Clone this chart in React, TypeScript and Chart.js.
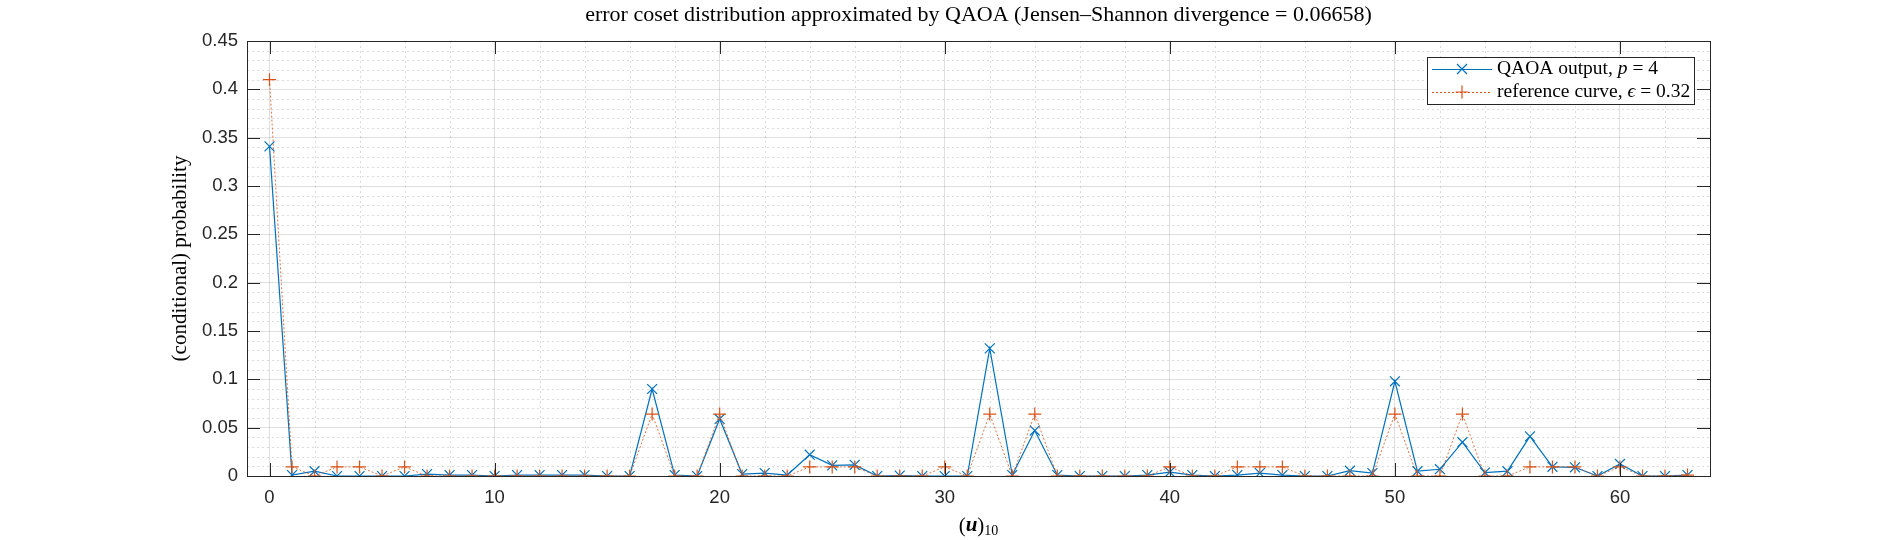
import { useEffect, useRef } from 'react'
import { Chart, registerables } from 'chart.js'

Chart.register(...registerables)

// (u)_10 index of each error coset
const uValues = [
  0, 1, 2, 3, 4, 5, 6, 7, 8, 9, 10, 11, 12, 13, 14, 15,
  16, 17, 18, 19, 20, 21, 22, 23, 24, 25, 26, 27, 28, 29, 30, 31,
  32, 33, 34, 35, 36, 37, 38, 39, 40, 41, 42, 43, 44, 45, 46, 47,
  48, 49, 50, 51, 52, 53, 54, 55, 56, 57, 58, 59, 60, 61, 62, 63,
]

// QAOA output, p = 4
const qaoaOutput = [
  0.341, 0.001, 0.005, 0, 0, 0, 0, 0.002, 0.001, 0.001, 0, 0.001, 0.001, 0.001, 0.001, 0,
  0, 0.09, 0.001, 0, 0.059, 0.002, 0.003, 0.001, 0.022, 0.011, 0.0115, 0, 0.0005, 0, 0, 0,
  0.132, 0.001, 0.047, 0.001, 0, 0, 0, 0.001, 0.004, 0.001, 0, 0.001, 0.003, 0.001, 0, 0,
  0.0055, 0.003, 0.098, 0.005, 0.007, 0.035, 0.0035, 0.005, 0.041, 0.0095, 0.009, 0, 0.0125, 0, 0, 0.001,
]

// reference curve, eps = 0.32
const referenceCurve = [
  0.41, 0.0094, 0, 0.0094, 0.0094, 0, 0.0094, 0, 0, 0, 0, 0, 0, 0, 0, 0,
  0, 0.0641, 0, 0, 0.0641, 0, 0, 0, 0.0094, 0.0094, 0.0094, 0, 0, 0, 0.0094, 0,
  0.0641, 0, 0.0641, 0, 0, 0, 0, 0, 0.0094, 0, 0, 0.0094, 0.0094, 0.0094, 0, 0,
  0, 0, 0.0641, 0, 0, 0.0641, 0, 0, 0.0094, 0.0094, 0.0094, 0, 0.0094, 0, 0, 0.001,
]

const xTicks = [0, 10, 20, 30, 40, 50, 60]
const yTicks = [0, 0.05, 0.1, 0.15, 0.2, 0.25, 0.3, 0.35, 0.4, 0.45]

const BLUE = '#0072BD'
const ORANGE = '#D95319'
const AXIS = '#262626'
const SERIF = '"Liberation Serif", "DejaVu Serif", serif'
const SANS = '"Liberation Sans", Arial, sans-serif'

type Seg = { t: string; f: string; dy?: number }

function drawSegs(ctx: CanvasRenderingContext2D, segs: Seg[], x: number, y: number, align: 'left' | 'center') {
  let total = 0
  for (const s of segs) {
    ctx.font = s.f
    total += ctx.measureText(s.t).width
  }
  let cx = align === 'center' ? x - total / 2 : x
  ctx.textAlign = 'left'
  ctx.textBaseline = 'middle'
  for (const s of segs) {
    ctx.font = s.f
    ctx.fillText(s.t, cx, y + (s.dy || 0))
    cx += ctx.measureText(s.t).width
  }
}

const decorPlugin = {
  id: 'matlabDecor',
  beforeDatasetsDraw(chart: any) {
    const { ctx, chartArea: a, scales } = chart
    const xs = scales.x
    const ys = scales.y
    ctx.save()
    ctx.strokeStyle = 'rgba(38,38,38,0.16)'
    ctx.lineWidth = 1
    ctx.setLineDash([2, 3])
    for (let v = 2; v < 64; v += 2) {
      if (v % 10 === 0) continue
      const px = Math.round(xs.getPixelForValue(v)) + 0.5
      ctx.beginPath()
      ctx.moveTo(px, a.top)
      ctx.lineTo(px, a.bottom)
      ctx.stroke()
    }
    for (let k = 1; k < 45; k++) {
      if (k % 5 === 0) continue
      const py = Math.round(ys.getPixelForValue(k / 100)) + 0.5
      ctx.beginPath()
      ctx.moveTo(a.left, py)
      ctx.lineTo(a.right, py)
      ctx.stroke()
    }
    ctx.restore()
  },
  afterDatasetsDraw(chart: any) {
    const { ctx, chartArea: a, scales } = chart
    ctx.save()
    ctx.strokeStyle = AXIS
    ctx.lineWidth = 1
    ctx.strokeRect(Math.round(a.left) + 0.5, Math.round(a.top) + 0.5, Math.round(a.right - a.left), Math.round(a.bottom - a.top))
    const tl = 13
    ctx.beginPath()
    for (const v of xTicks) {
      const px = Math.round(scales.x.getPixelForValue(v)) + 0.5
      ctx.moveTo(px, a.bottom)
      ctx.lineTo(px, a.bottom - tl)
      ctx.moveTo(px, a.top)
      ctx.lineTo(px, a.top + tl)
    }
    for (const v of yTicks) {
      const py = Math.round(scales.y.getPixelForValue(v)) + 0.5
      ctx.moveTo(a.left, py)
      ctx.lineTo(a.left + tl, py)
      ctx.moveTo(a.right, py)
      ctx.lineTo(a.right - tl, py)
    }
    ctx.stroke()
    ctx.restore()
  },
  afterDraw(chart: any) {
    const { ctx, chartArea: a } = chart
    const cx = (a.left + a.right) / 2
    ctx.save()
    ctx.fillStyle = '#000'
    // title
    drawSegs(ctx, [{ t: 'error coset distribution approximated by QAOA (Jensen\u2013Shannon divergence = 0.06658)', f: `22px ${SERIF}` }], cx, 15, 'center')
    // x label
    drawSegs(ctx, [
      { t: '(', f: `21px ${SERIF}` },
      { t: 'u', f: `italic bold 21px ${SERIF}` },
      { t: ')', f: `21px ${SERIF}` },
      { t: '10', f: `14px ${SERIF}`, dy: 5 },
    ], cx, 526, 'center')
    // y label
    ctx.save()
    ctx.translate(180, (a.top + a.bottom) / 2)
    ctx.rotate(-Math.PI / 2)
    drawSegs(ctx, [{ t: '(conditional) probability', f: `21px ${SERIF}` }], 0, 0, 'center')
    ctx.restore()

    // legend
    const bx = 1427.5, by = 57.5, bw = 267, bh = 47
    ctx.fillStyle = '#fff'
    ctx.fillRect(bx, by, bw, bh)
    ctx.strokeStyle = AXIS
    ctx.lineWidth = 1
    ctx.strokeRect(bx, by, bw, bh)
    const rows = [
      { y: 69, color: BLUE, dash: [] as number[], marker: 'x', segs: [
        { t: 'QAOA output, ', f: `19.5px ${SERIF}` },
        { t: 'p', f: `italic 19.5px ${SERIF}` },
        { t: ' = 4', f: `19.5px ${SERIF}` },
      ] },
      { y: 92, color: ORANGE, dash: [2, 2], marker: '+', segs: [
        { t: 'reference curve, ', f: `19.5px ${SERIF}` },
        { t: '\u03f5', f: `italic 19.5px ${SERIF}` },
        { t: ' = 0.32', f: `19.5px ${SERIF}` },
      ] },
    ]
    for (const r of rows) {
      ctx.strokeStyle = r.color
      ctx.lineWidth = r.marker === 'x' ? 1.2 : 1
      ctx.setLineDash(r.dash)
      ctx.beginPath()
      ctx.moveTo(1432, r.y + 0.5)
      ctx.lineTo(1492, r.y + 0.5)
      ctx.stroke()
      ctx.setLineDash([])
      ctx.beginPath()
      if (r.marker === 'x') {
        const d = 5
        ctx.moveTo(1462 - d, r.y - d); ctx.lineTo(1462 + d, r.y + d)
        ctx.moveTo(1462 - d, r.y + d); ctx.lineTo(1462 + d, r.y - d)
      } else {
        const d = 6.5
        ctx.moveTo(1462 - d, r.y); ctx.lineTo(1462 + d, r.y)
        ctx.moveTo(1462, r.y - d); ctx.lineTo(1462, r.y + d)
      }
      ctx.lineWidth = 1.2
      ctx.stroke()
      ctx.fillStyle = '#000'
      drawSegs(ctx, r.segs, 1497, r.y, 'left')
    }
    ctx.restore()
  },
}

export default function App() {
  const chartRef = useRef<HTMLCanvasElement>(null)
  const chartInstance = useRef<Chart | null>(null)

  useEffect(() => {
    if (!chartRef.current) return
    if (chartInstance.current) chartInstance.current.destroy()
    const ctx = chartRef.current.getContext('2d')
    if (!ctx) return

    const data = {
      datasets: [
        {
          label: 'reference curve',
          data: uValues.map((u, i) => ({ x: u, y: referenceCurve[i] })),
          borderColor: 'rgba(217,83,25,0.8)',
          borderWidth: 1,
          borderDash: [2, 2],
          pointStyle: 'cross' as const,
          pointRadius: 6.5,
          pointBorderWidth: 1.2,
          pointBorderColor: ORANGE,
          pointBackgroundColor: ORANGE,
          fill: false,
          tension: 0,
          order: 0,
        },
        {
          label: 'QAOA output',
          data: uValues.map((u, i) => ({ x: u, y: qaoaOutput[i] })),
          borderColor: BLUE,
          borderWidth: 1.2,
          pointStyle: 'crossRot' as const,
          pointRadius: 7,
          pointBorderWidth: 1.2,
          pointBorderColor: BLUE,
          pointBackgroundColor: BLUE,
          fill: false,
          tension: 0,
          order: 1,
        },
      ],
    }

    chartInstance.current = new Chart(ctx, {
      type: 'line',
      data,
      options: {
        responsive: false,
        animation: false,
        layout: { padding: { left: 0, top: 41, right: 181, bottom: 0 } },
        plugins: { legend: { display: false }, tooltip: { enabled: false }, title: { display: false } },
        scales: {
          x: {
            type: 'linear',
            min: -1,
            max: 64,
            afterFit: (scale: any) => { scale.height = 64 },
            ticks: {
              stepSize: 10,
              includeBounds: false,
              padding: 11,
              color: AXIS,
              font: { family: SANS, size: 18.5 },
              callback: (v: any) => String(v),
            },
            grid: { color: 'rgba(38,38,38,0.15)', drawTicks: false },
            border: { display: true, color: AXIS, width: 1 },
          },
          y: {
            min: 0,
            max: 0.45,
            afterFit: (scale: any) => { scale.width = 247 },
            ticks: {
              stepSize: 0.05,
              padding: 9,
              color: AXIS,
              font: { family: SANS, size: 18.5 },
              callback: (v: any) => String(Number(Number(v).toFixed(2))),
            },
            grid: { color: 'rgba(38,38,38,0.15)', drawTicks: false },
            border: { display: true, color: AXIS, width: 1 },
          },
        },
      } as any,
      plugins: [decorPlugin],
    })

    return () => {
      if (chartInstance.current) {
        chartInstance.current.destroy()
        chartInstance.current = null
      }
    }
  }, [])

  return (
    <div style={{ position: 'absolute', left: 0, top: 0, width: 1891, height: 540, background: '#fff' }}>
      <canvas ref={chartRef} width={1891} height={540} style={{ display: 'block' }} />
    </div>
  )
}
